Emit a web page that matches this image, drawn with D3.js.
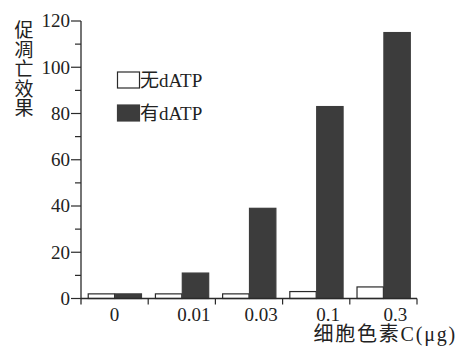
<!DOCTYPE html>
<html><head><meta charset="utf-8">
<script src="https://cdn.jsdelivr.net/npm/d3@7"></script>
<style>
html,body{margin:0;padding:0;background:#fff;}
svg{display:block;}
text{font-family:"Liberation Serif","Noto Sans CJK SC",serif;fill:#222;}
</style></head>
<body>
<svg id="chart" width="458" height="352"></svg>
<script>
const categories = ["0", "0.01", "0.03", "0.1", "0.3"];
const withoutDATP = [2, 2, 2, 3, 5];
const withDATP = [2, 11, 39, 83, 115];
const seriesNames = ["无dATP", "有dATP"];
const yTicks = [0, 20, 40, 60, 80, 100, 120];
const yMinorTicks = [10, 30, 50, 70, 90, 110];
const yTitle = ["促", "凋", "亡", "效", "果"];
const xTitle = "细胞色素C(μg)";

const svg = d3.select("#chart");
const axisColor = "#2a2a2a";
const darkColor = "#3c3c3c";

const x = d3.scaleBand().domain(categories).range([81, 417]).paddingInner(0.2).paddingOuter(0.1);
const xs = d3.scaleBand().domain([0, 1]).range([0, x.bandwidth()]);
const y = d3.scaleLinear().domain([0, 120]).range([298.5, 21]);

const data = categories.map((c, i) => ({c, vals: [withoutDATP[i], withDATP[i]]}));

// bars
const g = svg.append("g");
const groups = g.selectAll("g.grp").data(data).join("g")
  .attr("transform", d => `translate(${x(d.c)},0)`);
groups.selectAll("rect").data(d => d.vals.map((v, k) => ({v, k}))).join("rect")
  .attr("x", d => xs(d.k) + 0.5)
  .attr("width", xs.bandwidth() - 0.5)
  .attr("y", d => y(d.v))
  .attr("height", d => y(0) - y(d.v))
  .attr("fill", d => d.k === 0 ? "#fff" : darkColor)
  .attr("stroke", d => d.k === 0 ? axisColor : darkColor)
  .attr("stroke-width", 1.2);

// y axis
const yAxis = svg.append("g").attr("transform", `translate(${x.range()[0]},0)`);
yAxis.append("line").attr("x1", 0).attr("x2", 0).attr("y1", y(120)).attr("y2", y(0) + 6)
  .attr("stroke", axisColor).attr("stroke-width", 1.3);
yAxis.selectAll("line.maj").data(yTicks).join("line").attr("class", "maj")
  .attr("x1", -10).attr("x2", 0).attr("y1", d => y(d)).attr("y2", d => y(d))
  .attr("stroke", axisColor).attr("stroke-width", 1.2);
yAxis.selectAll("line.min").data(yMinorTicks).join("line").attr("class", "min")
  .attr("x1", -6).attr("x2", 0).attr("y1", d => y(d)).attr("y2", d => y(d))
  .attr("stroke", axisColor).attr("stroke-width", 1.2);
yAxis.selectAll("text").data(yTicks).join("text")
  .attr("x", -11).attr("y", d => y(d)).attr("dy", "0.33em")
  .attr("text-anchor", "end").attr("font-size", 19).text(d => d);

// y title
svg.append("g").selectAll("text").data(yTitle).join("text")
  .attr("x", 24).attr("y", (d, i) => 37 + i * 19.6)
  .attr("text-anchor", "middle").attr("font-size", 19).text(d => d);

// x axis
const xAxis = svg.append("g");
xAxis.append("line").attr("x1", x.range()[0]).attr("x2", x.range()[1])
  .attr("y1", y(0)).attr("y2", y(0)).attr("stroke", axisColor).attr("stroke-width", 1.3);
const step = x.step();
xAxis.selectAll("line.t").data(categories).join("line").attr("class", "t")
  .attr("x1", (d, i) => x.range()[0] + (i + 1) * step)
  .attr("x2", (d, i) => x.range()[0] + (i + 1) * step)
  .attr("y1", y(0)).attr("y2", y(0) + 6)
  .attr("stroke", axisColor).attr("stroke-width", 1.2);
xAxis.selectAll("text").data(categories).join("text")
  .attr("x", (d, i) => x(d) + x.bandwidth() / 2 + (i > 0 ? 12 : 0))
  .attr("y", 321).attr("text-anchor", "middle").attr("font-size", 19).text(d => d);

svg.append("text").attr("x", 457).attr("y", 341).attr("text-anchor", "end")
  .attr("font-size", 20).attr("letter-spacing", 1.8).text(xTitle);

// legend
const leg = svg.append("g");
seriesNames.forEach((name, k) => {
  const yy = 72 + k * 33;
  leg.append("rect").attr("x", 117.5).attr("y", yy).attr("width", 22).attr("height", 16)
    .attr("fill", k === 0 ? "#fff" : darkColor)
    .attr("stroke", k === 0 ? axisColor : darkColor).attr("stroke-width", 1.2);
  leg.append("text").attr("x", 140).attr("y", yy + 8).attr("dy", "0.35em")
    .attr("font-size", 19).text(name);
});
</script>
</body></html>
